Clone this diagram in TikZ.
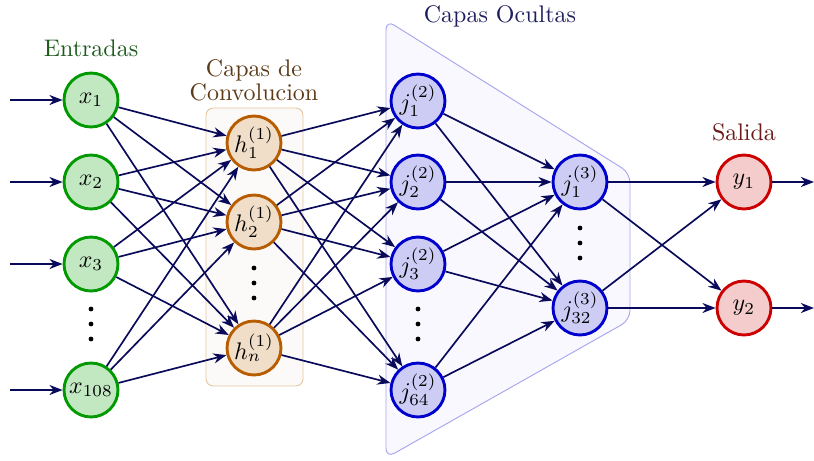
\documentclass[tikz,border=0pt]{standalone}
\usetikzlibrary{arrows.meta}
\definecolor{edgec}{HTML}{0A0A5A}
\definecolor{ingreen}{HTML}{009900}
\definecolor{infill}{HTML}{C2E8C2}
\definecolor{convb}{HTML}{B85C00}
\definecolor{convf}{HTML}{F0DEC9}
\definecolor{hidb}{HTML}{0000CC}
\definecolor{hidf}{HTML}{CCCCF5}
\definecolor{outb}{HTML}{CC0000}
\definecolor{outf}{HTML}{F4CCCC}
\definecolor{lblgreen}{HTML}{1E5C1E}
\definecolor{lblbrown}{HTML}{5C3A18}
\definecolor{lblnavy}{HTML}{1E1E5C}
\definecolor{lblred}{HTML}{6B1A1A}
\definecolor{convboxf}{HTML}{FBFAF8}
\definecolor{convboxd}{HTML}{E6C6A0}
\definecolor{hidboxf}{HTML}{F8F8FE}
\definecolor{hidboxd}{HTML}{A8A8F0}
\tikzset{
  neuron/.style={circle, minimum size=22.5pt, inner sep=0pt, line width=1.2pt},
  innode/.style={neuron, draw=ingreen, fill=infill},
  convnode/.style={neuron, draw=convb, fill=convf},
  hidnode/.style={neuron, draw=hidb, fill=hidf},
  outnode/.style={neuron, draw=outb, fill=outf},
  conn/.style={draw=edgec, line width=0.7pt, -{Stealth[length=5.5pt,width=4.2pt]}},
  vdot/.style={fill=black},
}
\begin{document}
\begin{tikzpicture}[x=0.417pt,y=-0.417pt]
\useasboundingbox (0,0) rectangle (814,460);
% backgrounds
\draw[rounded corners=3pt, fill=convboxf, draw=convboxd, line width=0.4pt] (206,108) rectangle (303,386);
\draw[rounded corners=4pt, fill=hidboxf, draw=hidboxd, line width=0.4pt]
  (386,20) -- (630,173) -- (630,320) -- (386,458) -- cycle;
% labels
\node[text=lblgreen] (lin) at (91,48) {Entradas};
\node[text=lblbrown, align=center, inner sep=0pt] (lconv) at (254,80) {Capas de\\[-2pt]Convolucion};
\node[text=lblnavy] (lhid) at (500,16) {Capas Ocultas};
\node[text=lblred] (lout) at (744,132) {Salida};
% input nodes
\node[innode] (x1) at (91,100) {$x_1$};
\node[innode] (x2) at (91,182) {$x_2$};
\node[innode] (x3) at (91,264) {$x_3$};
\node[innode] (x4) at (91,390) {$x_{108}$};
% conv nodes
\node[convnode] (h1) at (254,143) {$h_1^{(1)}$};
\node[convnode] (h2) at (254,222) {$h_2^{(1)}$};
\node[convnode] (h3) at (254,348) {$h_n^{(1)}$};
% hidden 2
\node[hidnode] (a1) at (418,101) {$j_1^{(2)}$};
\node[hidnode] (a2) at (418,182) {$j_2^{(2)}$};
\node[hidnode] (a3) at (418,264) {$j_3^{(2)}$};
\node[hidnode] (a4) at (418,390) {$j_{64}^{(2)}$};
% hidden 3
\node[hidnode] (b1) at (580,182) {$j_1^{(3)}$};
\node[hidnode] (b2) at (580,308) {$j_{32}^{(3)}$};
% outputs
\node[outnode] (y1) at (744,182) {$y_1$};
\node[outnode] (y2) at (744,308) {$y_2$};
% dots
\foreach \yy in {309,324,339} {\fill[vdot] (91,\yy) circle (1pt); \fill[vdot] (418,\yy) circle (1pt);}
\foreach \yy in {268,283,298} {\fill[vdot] (254,\yy) circle (1pt);}
\foreach \yy in {228,243,258} {\fill[vdot] (580,\yy) circle (1pt);}
% free ends
\coordinate (i1) at (10,100);
\coordinate (i2) at (10,182);
\coordinate (i3) at (10,264);
\coordinate (i4) at (10,390);
\coordinate (o1) at (814,182);
\coordinate (o2) at (814,308);
\foreach \k in {1,2,3,4} {\draw[conn] (i\k) -- (x\k);}
\draw[conn] (y1) -- (o1);
\draw[conn] (y2) -- (o2);
% connections
\foreach \i in {1,2,3,4} {\foreach \j in {1,2,3} {\draw[conn] (x\i) -- (h\j);}}
\foreach \i in {1,2,3} {\foreach \j in {1,2,3,4} {\draw[conn] (h\i) -- (a\j);}}
\foreach \i in {1,2,3,4} {\foreach \j in {1,2} {\draw[conn] (a\i) -- (b\j);}}
\foreach \i in {1,2} {\foreach \j in {1,2} {\draw[conn] (b\i) -- (y\j);}}
\end{tikzpicture}
\end{document}
